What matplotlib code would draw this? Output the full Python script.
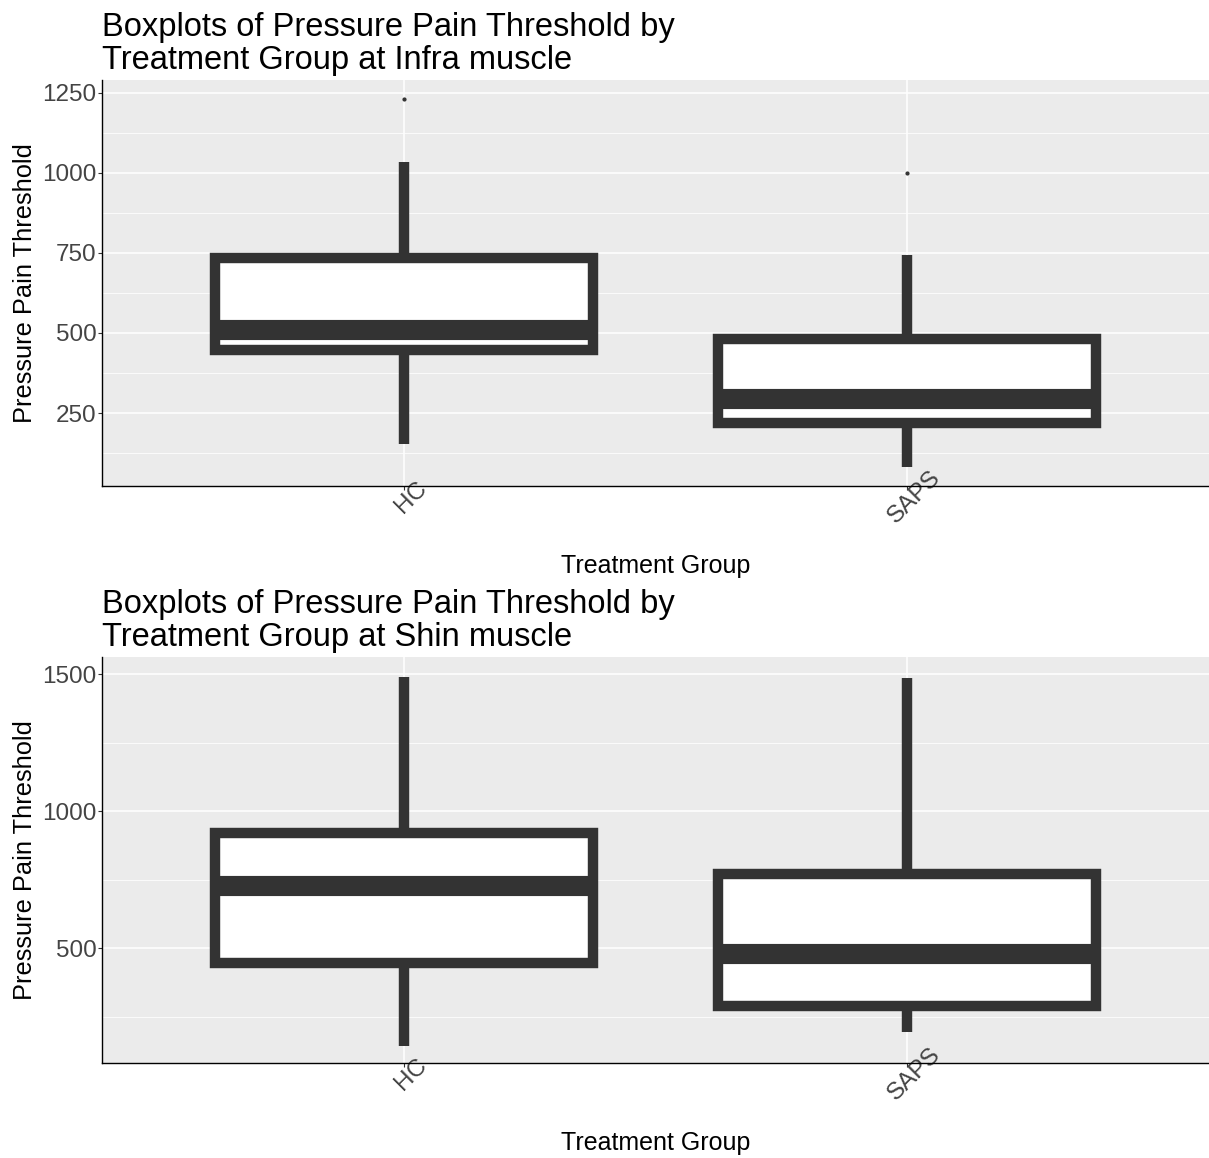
import matplotlib
matplotlib.use("Agg")
import matplotlib.pyplot as plt
from matplotlib.ticker import MultipleLocator
from matplotlib.transforms import ScaledTranslation

plt.rcParams['font.family'] = ['Liberation Sans', 'DejaVu Sans']

# ---- data ----
groups = ["HC", "SAPS"]

# Infra muscle
infra_whislo = [153, 82]
infra_q1 = [448, 218]
infra_med = [509, 294]
infra_q3 = [735, 481]
infra_whishi = [1035, 744]
infra_fliers = [[1231], [1000]]

# Shin muscle
shin_whislo = [143, 193]
shin_q1 = [444, 290]
shin_med = [727, 477]
shin_q3 = [921, 771]
shin_whishi = [1491, 1485]
shin_fliers = [[], []]

DARK = '#333333'
BG = '#EBEBEB'


def make_stats(whislo, q1, med, q3, whishi, fliers):
    stats = []
    for i in range(len(groups)):
        stats.append(dict(label=groups[i], whislo=whislo[i], q1=q1[i], med=med[i],
                          q3=q3[i], whishi=whishi[i], fliers=fliers[i]))
    return stats


def draw_panel(fig, ax, stats, ylim, major, minor, title):
    ax.set_facecolor(BG)
    ax.bxp(stats, positions=[1, 2], widths=0.75, patch_artist=True, showcaps=False,
           boxprops=dict(facecolor='white', edgecolor=DARK, linewidth=7.5),
           medianprops=dict(color=DARK, linewidth=14.5, solid_capstyle='butt'),
           whiskerprops=dict(color=DARK, linewidth=7.5, solid_capstyle='butt'),
           flierprops=dict(marker='o', markersize=2, markerfacecolor=DARK,
                           markeredgecolor=DARK), zorder=3)
    ax.set_xlim(0.4, 2.6)
    ax.set_ylim(*ylim)
    ax.yaxis.set_major_locator(MultipleLocator(major))
    ax.yaxis.set_minor_locator(MultipleLocator(minor))
    ax.grid(which='major', color='white', linewidth=1.1)
    ax.grid(which='minor', axis='y', color='white', linewidth=0.55)
    ax.set_axisbelow(True)
    for s in ['top', 'right']:
        ax.spines[s].set_visible(False)
    for s in ['left', 'bottom']:
        ax.spines[s].set_color('black')
        ax.spines[s].set_linewidth(1.0)
    ax.tick_params(which='major', length=3, color=DARK, labelsize=17.5,
                   labelcolor='#444444')
    ax.tick_params(axis='y', pad=1)
    ax.tick_params(axis='x', pad=5)
    ax.tick_params(which='minor', length=0)
    ax.set_xticks([1, 2])
    ax.set_xticklabels(groups, rotation=45, ha='center', va='center',
                       rotation_mode='anchor')
    # nudge the rotated labels a little to the right, as in the reference
    for lab in ax.get_xticklabels():
        lab.set_transform(lab.get_transform() + ScaledTranslation(7 / 100, 0, fig.dpi_scale_trans))
    ax.set_ylabel('Pressure Pain Threshold', fontsize=18.3, color='black', va='center')
    ax.yaxis.set_label_coords(-0.0696, 0.5)
    ax.set_xlabel('Treatment Group', fontsize=18, color='black', va='center')
    ax.xaxis.set_label_coords(0.5, -0.197)
    ax.set_title(title, loc='left', fontsize=23.5, color='black', pad=8, linespacing=1.1)


fig = plt.figure(figsize=(12.09, 11.58), dpi=100)
ax1 = fig.add_axes([0.0844, 0.5803, 0.9156, 0.3506])
ax2 = fig.add_axes([0.0844, 0.0820, 0.9156, 0.3506])

draw_panel(fig, ax1, make_stats(infra_whislo, infra_q1, infra_med, infra_q3, infra_whishi, infra_fliers),
           (22, 1290), 250, 125,
           'Boxplots of Pressure Pain Threshold by\nTreatment Group at Infra muscle')
draw_panel(fig, ax2, make_stats(shin_whislo, shin_q1, shin_med, shin_q3, shin_whishi, shin_fliers),
           (80, 1563), 500, 250,
           'Boxplots of Pressure Pain Threshold by\nTreatment Group at Shin muscle')

fig.savefig('out.png', dpi=100)
